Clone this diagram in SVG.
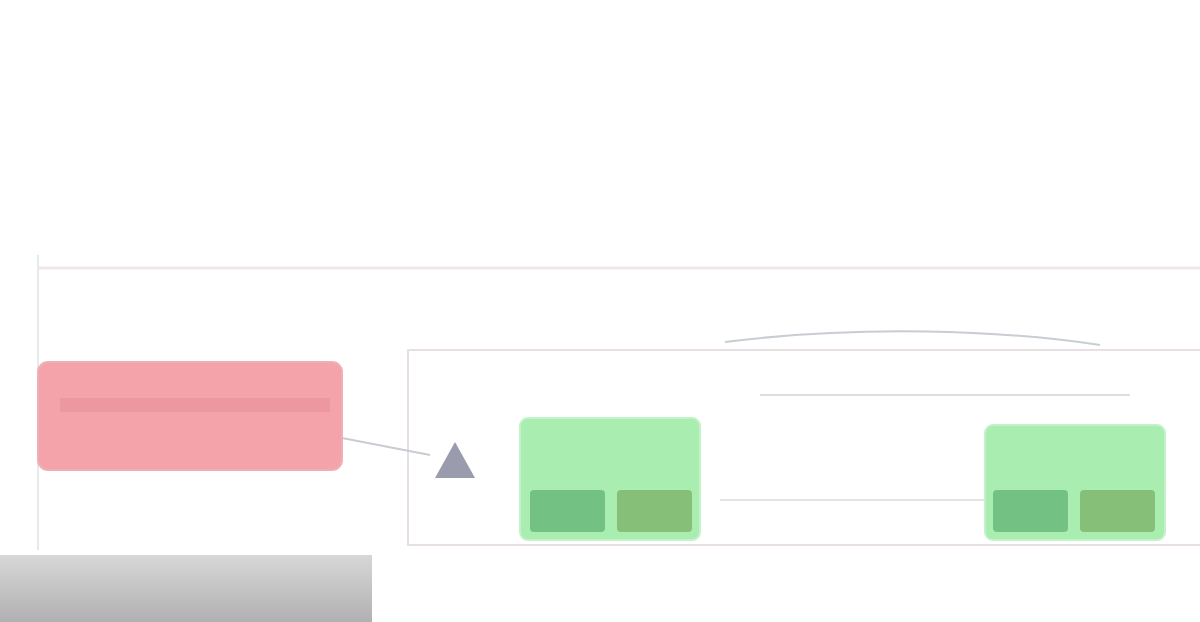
<svg xmlns="http://www.w3.org/2000/svg" width="1200" height="622" viewBox="0 0 1200 622">
<defs>
<style>
.frame{fill:none;stroke:#e8dfe2;stroke-width:2}
.pink{fill:#f4a3aa;stroke:#eeb0b6;stroke-width:2}
.green{fill:#a9eeb0;stroke:#c4f2c8;stroke-width:2}
.cell{fill:#74c184}
.cell2{fill:#86bf78}
.edge{fill:none;stroke:#c9ccd2;stroke-width:2}
</style>
<linearGradient id="bar" x1="0" y1="0" x2="0" y2="1">
<stop offset="0" stop-color="#d6d8d6"/>
<stop offset="1" stop-color="#b2b0b2"/>
</linearGradient>
</defs>
<rect width="1200" height="622" fill="#ffffff"/>
<g id="frames">
<line x1="38" y1="268" x2="1200" y2="268" stroke="#f2e6e8" stroke-width="3"/>
<line x1="38" y1="255" x2="38" y2="550" stroke="#e6eaea" stroke-width="2"/>
<rect class="frame" x="408" y="350" width="800" height="195"/>
<line x1="760" y1="395" x2="1130" y2="395" stroke="#dedcdc" stroke-width="2"/>
</g>
<g id="connectors">
<path class="edge" d="M725,342 C860,325 1000,330 1100,345"/>
<path class="edge" d="M342,438 L430,455" stroke="#a8b4bc"/>
<path d="M435,478 L455,442 L475,478 z" fill="#9a9cae"/>
<line x1="720" y1="500" x2="985" y2="500" stroke="#e4e4e4" stroke-width="2"/>
</g>
<g id="node-pink">
<rect class="pink" x="38" y="362" width="304" height="108" rx="10"/>
<rect x="60" y="398" width="270" height="14" fill="#e58e96" opacity="0.5"/>
</g>
<g id="node-green-1">
<rect class="green" x="520" y="418" width="180" height="122" rx="8"/>
<rect x="530" y="490" width="75" height="42" rx="4" class="cell"/>
<rect x="617" y="490" width="75" height="42" rx="4" class="cell2"/>
</g>
<g id="node-green-2">
<rect class="green" x="985" y="425" width="180" height="115" rx="8"/>
<rect x="993" y="490" width="75" height="42" rx="4" class="cell"/>
<rect x="1080" y="490" width="75" height="42" rx="4" class="cell2"/>
</g>
<g id="bar-bottom">
<rect x="0" y="555" width="372" height="67" fill="url(#bar)"/>
</g>
</svg>
